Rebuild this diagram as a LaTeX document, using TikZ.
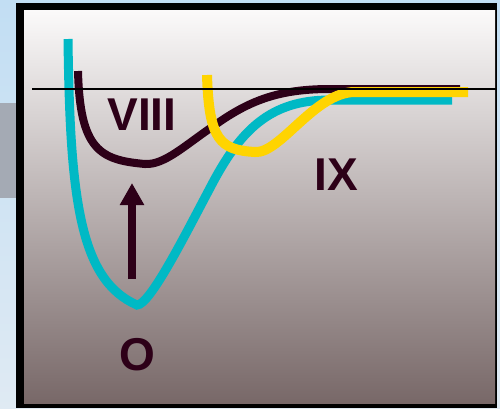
\documentclass[tikz,border=0pt]{standalone}
\usepackage{fontspec}
\setmainfont{Liberation Sans}
\usetikzlibrary{arrows.meta}

\definecolor{skyback}{HTML}{C2DEF3}
\definecolor{skylow}{HTML}{DFEAF3}
\definecolor{slate}{HTML}{A4AAB4}
\definecolor{panetop}{HTML}{FBFAFA}
\definecolor{panemid}{HTML}{B3A8A9}
\definecolor{panelow}{HTML}{786868}
\definecolor{wellcol}{HTML}{2D0018}
\definecolor{groundcol}{HTML}{00B9C5}
\definecolor{ixcol}{HTML}{FFD400}

\begin{document}
\begin{tikzpicture}[x=1pt, y=-1pt,
    curve/.style={line width=9pt},
    statetext/.style={font=\fontsize{46}{46}\selectfont\bfseries, text=wellcol, inner sep=0pt}]
    \useasboundingbox (0,0) rectangle (500,408);

    % Slide background behind the panel
    \shade[top color=skyback, bottom color=skylow] (0,0) rectangle (500,408);
    \fill[slate] (0,103) rectangle (17,198);

    % Panel with black frame and vertical gradient
    \fill[black] (16,3) rectangle (497,408);
    \shade[top color=panetop, middle color=panemid, bottom color=panelow] (24,10) rectangle (495,403);

    % Ground state curve (O)
    \draw[curve, groundcol] (68,39) .. controls (70,200) and (80,280) .. (137,305)
        .. controls (150,305) and (185,235) .. (210,188)
        .. controls (240,130) and (270,100) .. (330,100) -- (452,100);

    % Excited state curve (VIII)
    \draw[curve, wellcol, line width=8pt] (78,71) .. controls (80,150) and (100,160) .. (145,164)
        .. controls (165,165) and (185,145) .. (215,125)
        .. controls (250,100) and (280,89) .. (330,89) -- (460,89);

    % Excited state curve (IX)
    \draw[curve, ixcol, line width=10pt] (207,75) .. controls (209,140) and (220,150) .. (255,152)
        .. controls (280,154) and (315,92) .. (355,92) -- (468,92);

    % Dissociation limit
    \draw[line width=2pt] (32,89) -- (497,89);

    % State labels
    \node[statetext] (viii) at (142,115) {VIII};
    \node[statetext] (ix) at (336,175) {IX};
    \node[statetext] (o) at (137,355) {O};

    % Excitation arrow
    \coordinate (ground) at (132,279);
    \coordinate (excited) at (132,183);
    \draw[wellcol, line width=8pt, -{Triangle[length=22pt, width=23pt]}] (ground) -- (excited);
\end{tikzpicture}
\end{document}
